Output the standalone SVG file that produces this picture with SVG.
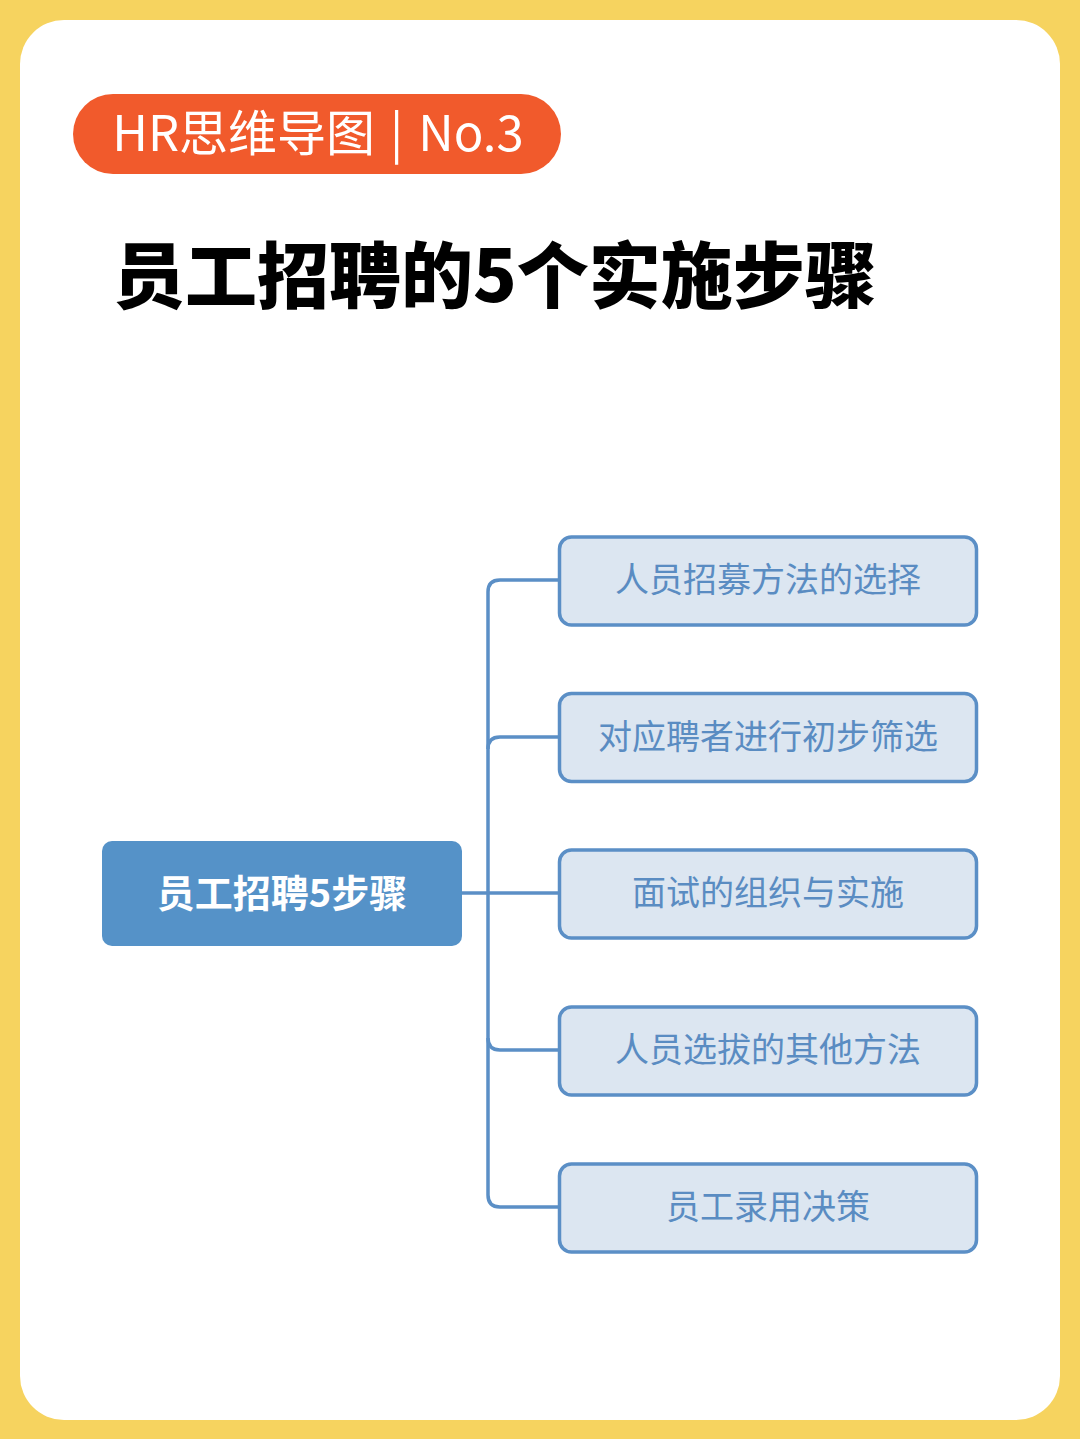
<svg xmlns="http://www.w3.org/2000/svg" width="1080" height="1439" viewBox="0 0 1080 1439">
<style>
.cjk{font-family:"Noto Sans CJK SC","Noto Sans",sans-serif}
.child rect{fill:#DCE6F1;stroke:#5B8FC6;stroke-width:3.5}
.child text{fill:#5A8CC2;font-size:34px;text-anchor:middle;font-family:"Noto Sans CJK SC","Noto Sans",sans-serif}
.conn path{fill:none;stroke:#5B8FC6;stroke-width:3.5}
</style>
<rect x="0" y="0" width="1080" height="1439" fill="#F6D35F"/>
<rect x="20" y="20" width="1040" height="1400" rx="44" fill="#FFFFFF"/>
<g id="badge">
<rect x="73" y="94" width="488" height="80" rx="40" fill="#F15A2C"/>
<text x="318" y="151" class="cjk" font-size="49" fill="#FFFFFF" text-anchor="middle" word-spacing="4">HR思维导图 | No.3</text>
</g>
<g id="title">
<text x="113" y="302" class="cjk" font-size="72" font-weight="900" fill="#000000">员工招聘的5个实施步骤</text>
</g>
<g class="conn" id="connectors">
<path d="M462 893 H558"/>
<path d="M558 580 H500 Q488 580 488 592 V1195 Q488 1207 500 1207 H558"/>
<path d="M558 737 H500 Q488 737 488 749"/>
<path d="M558 1050 H500 Q488 1050 488 1038"/>
</g>
<g id="root">
<rect x="102" y="841" width="360" height="105" rx="10" fill="#5592C8"/>
<text x="282" y="907" class="cjk" font-size="38" font-weight="700" fill="#FFFFFF" text-anchor="middle">员工招聘5步骤</text>
</g>
<g id="n1" class="child">
<rect x="559.5" y="537" width="417" height="88" rx="12"/>
<text x="768" y="592">人员招募方法的选择</text>
</g>
<g id="n2" class="child">
<rect x="559.5" y="693.5" width="417" height="88" rx="12"/>
<text x="768" y="749">对应聘者进行初步筛选</text>
</g>
<g id="n3" class="child">
<rect x="559.5" y="850" width="417" height="88" rx="12"/>
<text x="768" y="905">面试的组织与实施</text>
</g>
<g id="n4" class="child">
<rect x="559.5" y="1007" width="417" height="88" rx="12"/>
<text x="768" y="1062">人员选拔的其他方法</text>
</g>
<g id="n5" class="child">
<rect x="559.5" y="1164" width="417" height="88" rx="12"/>
<text x="768" y="1219">员工录用决策</text>
</g>
</svg>
